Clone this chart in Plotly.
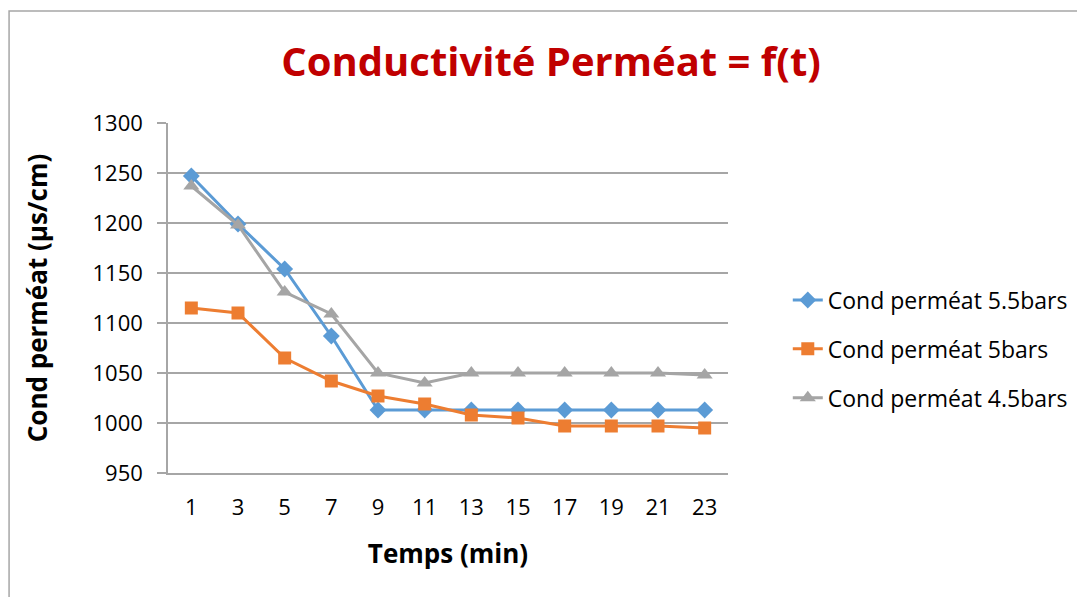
import plotly.graph_objects as go

temps = ["1", "3", "5", "7", "9", "11", "13", "15", "17", "19", "21", "23"]
cond_55 = [1247, 1199, 1154, 1087, 1013, 1013, 1013, 1013, 1013, 1013, 1013, 1013]
cond_5 = [1115, 1110, 1065, 1042, 1027, 1019, 1008, 1005, 997, 997, 997, 995]
cond_45 = [1237, 1198, 1131, 1109, 1050, 1040, 1050, 1050, 1050, 1050, 1050, 1048]

names = ["Cond perméat 5.5bars", "Cond perméat 5bars", "Cond perméat 4.5bars"]
colors = ["#5B9BD5", "#ED7D31", "#A5A5A5"]
symbols = ["diamond", "square", "triangle-up"]
sizes = [13, 13, 14]

font_family = "Open Sans, Liberation Sans, sans-serif"

# page body has an 8px margin: figure coordinates = screen - 8
W, H = 1077, 589
L, R, T, B = 160, 722, 115, 465

fig = go.Figure()
for i, (vals, name, col, sym, sz) in enumerate(zip([cond_55, cond_5, cond_45], names, colors, symbols, sizes)):
    fig.add_trace(go.Scatter(
        x=temps, y=vals, name=name, mode="lines+markers", legendgroup=f"g{i}",
        line=dict(color=col, width=3),
        marker=dict(symbol=sym, size=sz, color=col),
    ))

pw, ph = R - L, B - T

fig.update_layout(
    width=W, height=H,
    paper_bgcolor="white", plot_bgcolor="white",
    margin=dict(l=L, r=W - R, t=T, b=H - B),
    font=dict(family=font_family, color="#000000", size=22),
    title=dict(text="<b>Conductivité Perméat = f(t)</b>", x=543 / W, xref="container", xanchor="center",
               y=1 - 54 / H, yref="container", yanchor="middle",
               font=dict(size=40, color="#C00000", family=font_family)),
    legend=dict(x=(782 - L) / pw, xanchor="left", y=(B - 341) / ph, yanchor="middle",
                font=dict(size=23, color="#000000"), tracegroupgap=16,
                bgcolor="rgba(0,0,0,0)"),
    showlegend=True,
    xaxis=dict(type="category", range=[-0.5, len(temps) - 0.5], showgrid=False, showline=True,
               linecolor="#A6A6A6", linewidth=1.5,
               ticks="", tickfont=dict(size=22), zeroline=False, ticklabelstandoff=14,
               title=dict(text="<b>Temps (min)</b>", font=dict(size=26), standoff=25)),
    yaxis=dict(range=[950, 1300], dtick=50, tick0=950, showgrid=True, gridcolor="#A6A6A6", gridwidth=1.5,
               showline=True, linecolor="#A6A6A6", linewidth=1.5, ticks="outside", ticklen=9,
               tickcolor="#A6A6A6", tickwidth=1.5, tickfont=dict(size=22), zeroline=False,
               ticklabelstandoff=10,
               title=dict(text="<b>Cond perméat (µs/cm)</b>", font=dict(size=26), standoff=37)),
)

fig.add_shape(type="rect", xref="paper", yref="paper",
              x0=(0.5 - L) / pw, x1=(1100 - L) / pw,
              y0=-(620 - B) / ph, y1=(B - 3) / ph,
              line=dict(color="#A6A6A6", width=1.5), fillcolor="rgba(0,0,0,0)", layer="below")

fig.write_html("out.html")
